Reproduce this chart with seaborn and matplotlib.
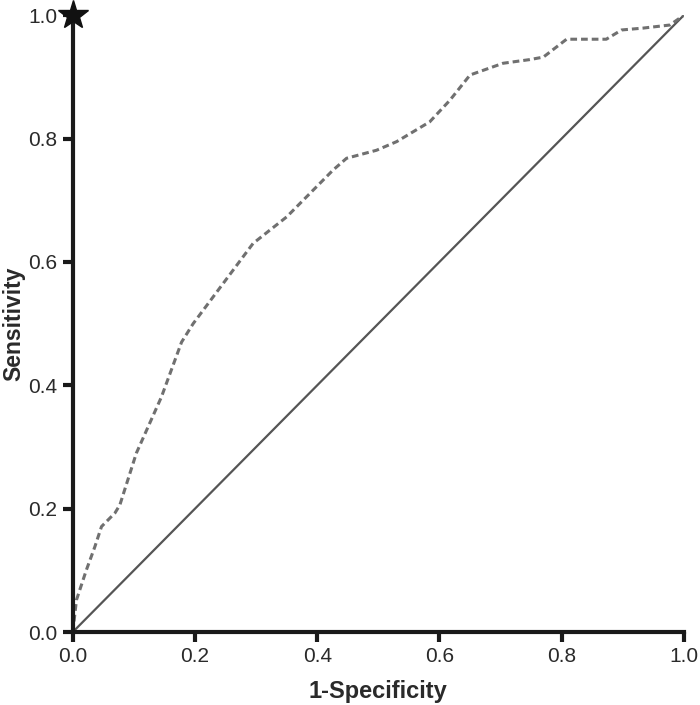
"""ROC curve: sensitivity vs 1-specificity."""

import matplotlib

matplotlib.use("Agg")

import matplotlib.pyplot as plt
import pandas as pd
import seaborn as sns

# ROC curve points
fpr = [0.0, 0.006, 0.022, 0.036, 0.047, 0.069, 0.077, 0.104, 0.145, 0.178, 0.197,
       0.246, 0.295, 0.350, 0.426, 0.448, 0.497, 0.530, 0.584, 0.617, 0.650, 0.704,
       0.748, 0.770, 0.808, 0.873, 0.898, 0.933, 0.977, 1.0]
tpr = [0.0, 0.052, 0.100, 0.138, 0.171, 0.193, 0.206, 0.290, 0.381, 0.470, 0.500,
       0.565, 0.630, 0.673, 0.749, 0.768, 0.781, 0.795, 0.827, 0.862, 0.903, 0.922,
       0.928, 0.932, 0.961, 0.961, 0.976, 0.979, 0.984, 1.0]
chance = [0.0, 1.0]
ticks = [0.0, 0.2, 0.4, 0.6, 0.8, 1.0]
tick_labels = ["0.0", "0.2", "0.4", "0.6", "0.8", "1.0"]

sns.set_style("ticks")
plt.rcParams["font.family"] = ["Liberation Sans", "DejaVu Sans"]

roc = pd.DataFrame({"fpr": fpr, "tpr": tpr})
diag = pd.DataFrame({"x": chance, "y": chance})

fig = plt.figure(figsize=(7.0, 7.05), dpi=100)
ax = fig.add_axes([0.104, 0.1035, 0.873, 0.875])

sns.lineplot(data=diag, x="x", y="y", ax=ax, color="#555555", linewidth=1.6)
sns.lineplot(data=roc, x="fpr", y="tpr", sort=False, ax=ax, color="#707070",
             linewidth=2.2, dashes=False, linestyle=(0, (2.2, 1.3)))
ax.plot([0], [1], marker="*", color="#111111", markersize=22, clip_on=False, zorder=5)

ax.set_xlim(0, 1)
ax.set_ylim(0, 1)
ax.set_xticks(ticks)
ax.set_xticklabels(tick_labels)
ax.set_yticks(ticks)
ax.set_yticklabels(tick_labels)
ax.tick_params(axis="both", length=7, width=3, color="#1a1a1a", labelsize=15,
               labelcolor="#2a2a2a", pad=4)

for side in ["top", "right"]:
    ax.spines[side].set_visible(False)
for side in ["left", "bottom"]:
    ax.spines[side].set_linewidth(3)
    ax.spines[side].set_color("#1a1a1a")

ax.set_xlabel("1-Specificity", fontsize=17, fontweight="bold", color="#2a2a2a",
              labelpad=10)
ax.set_ylabel("Sensitivity", fontsize=16.5, fontweight="bold", color="#2a2a2a")
ax.yaxis.set_label_coords(-0.078, 0.5)

fig.savefig("out.png", dpi=100)
plt.close(fig)
